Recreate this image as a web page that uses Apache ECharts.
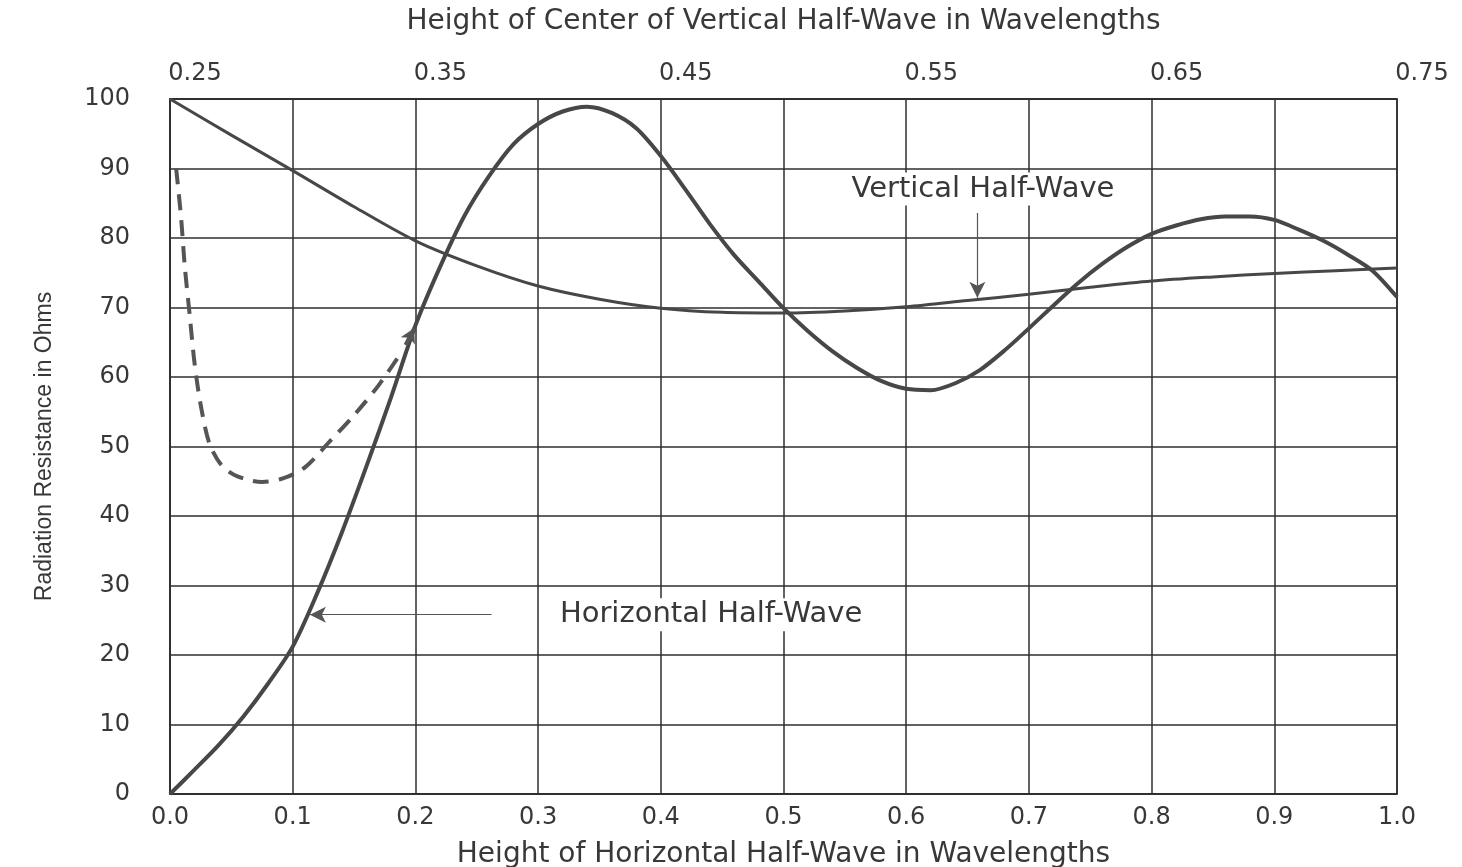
<!DOCTYPE html>
<html>
<head>
<meta charset="utf-8">
<script src="https://cdn.jsdelivr.net/npm/echarts@6/dist/echarts.min.js"></script>
<style>
  html, body { margin: 0; padding: 0; background: #fff; }
  #main { width: 1462px; height: 867px; }
</style>
</head>
<body>
<div id="main"></div>
<script>
// data: [height of horizontal half-wave, ohms]
var horizontalHalfWave = [
  [0, 0], [0.02, 3.5], [0.04, 7.1], [0.06, 11.2], [0.08, 15.9], [0.1, 21.2],
  [0.12, 28.9], [0.14, 37.6], [0.16, 47.1], [0.18, 57], [0.2, 67.4], [0.22, 75.8],
  [0.24, 83.2], [0.26, 88.9], [0.28, 93.5], [0.3, 96.4], [0.32, 98.2], [0.34, 98.9],
  [0.36, 98], [0.38, 95.8], [0.4, 91.8], [0.42, 87], [0.44, 82], [0.46, 77.5],
  [0.48, 73.7], [0.5, 69.9], [0.52, 66.6], [0.54, 63.7], [0.56, 61.3], [0.58, 59.4],
  [0.6, 58.3], [0.62, 58.1], [0.64, 59.1], [0.66, 61], [0.68, 63.8], [0.7, 67],
  [0.72, 70.3], [0.74, 73.5], [0.76, 76.3], [0.78, 78.7], [0.8, 80.6], [0.82, 81.8],
  [0.84, 82.7], [0.86, 83.1], [0.88, 83.1], [0.9, 82.6], [0.92, 81.2], [0.94, 79.6],
  [0.96, 77.6], [0.98, 75.3], [1.0, 71.5]
];
var verticalHalfWave = [
  [0, 100], [0.05, 94.8], [0.1, 89.7], [0.15, 84.5], [0.2, 79.6], [0.25, 76],
  [0.3, 73.1], [0.35, 71.2], [0.4, 69.9], [0.45, 69.3], [0.5, 69.2], [0.55, 69.5],
  [0.6, 70.1], [0.65, 71], [0.7, 71.9], [0.75, 72.9], [0.8, 73.8], [0.85, 74.4],
  [0.9, 74.9], [0.95, 75.3], [1.0, 75.7]
];
var dashedCurve = [
  [0.005, 90], [0.009, 83], [0.012, 76], [0.016, 69], [0.02, 62], [0.025, 56],
  [0.032, 50.5], [0.042, 47.3], [0.055, 45.7], [0.075, 44.9], [0.092, 45.4],
  [0.11, 47], [0.13, 50.7], [0.15, 54.5], [0.17, 58.8], [0.188, 63.4]
];
var bottomTickLabels = ['0.0', '0.1', '0.2', '0.3', '0.4', '0.5', '0.6', '0.7', '0.8', '0.9', '1.0'];
var topTickLabels = ['0.25', '0.35', '0.45', '0.55', '0.65', '0.75'];

var textColor = '#383838';
var lineColor = '#474747';
var font = 'DejaVu Sans';

var myChart = echarts.init(document.getElementById('main'));
var option = {
  animation: false,
  backgroundColor: '#fff',
  grid: {
    left: 170, right: 65, top: 99, bottom: 73, containLabel: false, outerBoundsMode: 'none',
    show: true, borderColor: '#2e2e2e', borderWidth: 1.5
  },
  xAxis: [
    {
      type: 'value', min: 0, max: 1, interval: 0.1, position: 'bottom',
      name: 'Height of Horizontal Half-Wave in Wavelengths',
      nameLocation: 'middle', nameGap: 47,
      nameTextStyle: { fontFamily: font, fontSize: 28, color: textColor },
      axisLine: { show: true, lineStyle: { color: '#2e2e2e', width: 1.5 } },
      axisTick: { show: false },
      axisLabel: {
        fontFamily: font, fontSize: 24, color: textColor, margin: 12,
        formatter: function (v) { return bottomTickLabels[Math.round(v * 10)]; }
      },
      splitLine: { show: true, lineStyle: { color: '#2e2e2e', width: 1.5 } }
    },
    {
      type: 'value', min: 0, max: 1, interval: 0.2, position: 'top',
      name: 'Height of Center of Vertical Half-Wave in Wavelengths',
      nameLocation: 'middle', nameGap: 63,
      nameTextStyle: { fontFamily: font, fontSize: 28, color: textColor },
      axisLine: { show: true, lineStyle: { color: '#2e2e2e', width: 1.5 } },
      axisTick: { show: false },
      axisLabel: {
        fontFamily: font, fontSize: 24, color: textColor, margin: 13,
        padding: [0, 0, 0, 50],
        formatter: function (v) { return topTickLabels[Math.round(v * 5)]; }
      },
      splitLine: { show: false }
    }
  ],
  yAxis: {
    type: 'value', min: 0, max: 100, interval: 10,
    name: 'Radiation Resistance in Ohms',
    nameLocation: 'middle', nameGap: 114, nameRotate: 90,
    nameTextStyle: { fontFamily: 'Liberation Sans', fontSize: 23, color: textColor },
    axisLine: { show: true, lineStyle: { color: '#2e2e2e', width: 1.5 } },
    axisTick: { show: false },
    axisLabel: { fontFamily: font, fontSize: 24, color: textColor, margin: 40 },
    splitLine: { show: true, lineStyle: { color: '#2e2e2e', width: 1.5 } }
  },
  series: [
    {
      name: 'Vertical Half-Wave', type: 'line', data: verticalHalfWave,
      smooth: 0.3, showSymbol: false, z: 3,
      lineStyle: { color: lineColor, width: 3 },
      markLine: {
        silent: true, symbol: ['none', 'arrow'], symbolSize: [12, 16],
        lineStyle: { color: '#555', width: 1.2, type: 'solid' },
        label: { show: false },
        data: [[{ coord: [0.658, 83.6] }, { coord: [0.658, 71.4] }]]
      },
      markPoint: {
        silent: true, symbol: 'rect', symbolSize: 0,
        label: {
          show: true, formatter: 'Vertical Half-Wave', fontFamily: font, fontSize: 29,
          color: textColor, backgroundColor: '#fff', padding: [2, 8]
        },
        data: [{ coord: [0.6626, 87.05] }]
      }
    },
    {
      name: 'Horizontal Half-Wave', type: 'line', data: horizontalHalfWave,
      smooth: 0.3, showSymbol: false, z: 4,
      lineStyle: { color: lineColor, width: 4 },
      markLine: {
        silent: true, symbol: ['none', 'arrow'], symbolSize: [12, 16],
        lineStyle: { color: '#555', width: 1.2, type: 'solid' },
        label: { show: false },
        data: [[{ coord: [0.262, 25.8] }, { coord: [0.114, 25.8] }]]
      },
      markPoint: {
        silent: true, symbol: 'rect', symbolSize: 0,
        label: {
          show: true, formatter: 'Horizontal Half-Wave', fontFamily: font, fontSize: 29,
          color: textColor, backgroundColor: '#fff', padding: [2, 8]
        },
        data: [{ coord: [0.441, 25.8] }]
      }
    },
    {
      name: 'dashed', type: 'line', data: dashedCurve,
      smooth: 0.3, showSymbol: false, z: 3,
      lineStyle: { color: '#555', width: 4, type: [16, 10] },
      markLine: {
        silent: true, symbol: ['none', 'arrow'], symbolSize: [12, 14],
        lineStyle: { color: '#555', width: 4, type: 'solid' },
        label: { show: false },
        data: [[{ coord: [0.192, 64.6] }, { coord: [0.199, 67] }]]
      }
    }
  ]
};
myChart.setOption(option);
</script>
</body>
</html>
